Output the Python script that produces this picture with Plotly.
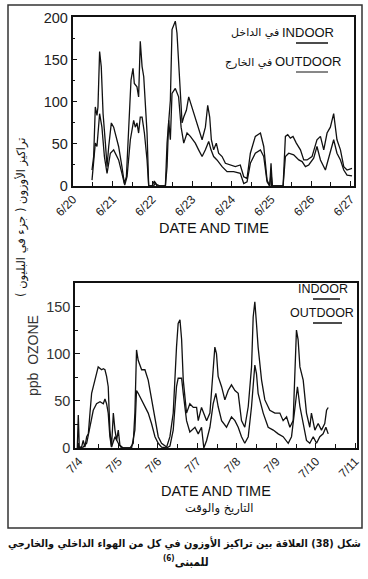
import plotly.graph_objects as go

# ---------------- data ----------------
# Top panel: hours since 6/20 00:00
top_days = ["6/20", "6/21", "6/22", "6/23", "6/24", "6/25", "6/26", "6/27"]
top_out_h = [11.5, 12.5, 13.5, 14.5, 15.1, 16.1, 17.1, 18.2, 19.6, 20.6, 21.6, 23.2, 24.6, 25.6, 27.6,
             29.6, 31.1, 32.3, 33.7, 35.1, 36.3, 37.1, 38.7, 39.7, 40.7, 41.8, 42.8, 43.8, 44.8, 45.8,
             47.8, 49.2, 50.4, 52.8, 55.9, 56.9, 57.9, 58.9, 59.9, 60.9, 61.9, 62.9, 63.9, 64.9, 66.0,
             67.0, 68.6, 70.0, 72.0, 74.0, 76.0, 78.1, 80.1, 81.5, 82.7, 83.7, 85.1, 86.7, 88.1, 90.2,
             92.2, 95.2, 98.2, 101.2, 103.3, 105.3, 107.3, 110.3, 113.4, 115.4, 117.4, 119.0, 119.8,
             120.6, 127.1, 128.5, 129.9, 131.5, 133.1, 135.1, 137.6, 139.6, 141.6, 144.6, 147.6, 149.7,
             151.7, 153.7, 155.7, 157.7, 159.7, 161.8, 163.8, 165.8, 168.8]
top_out_v = [19, 35, 94, 84, 94, 160, 142, 86, 51, 23, 47, 75, 70, 63, 47,
             23, 3, 11, 78, 126, 140, 122, 118, 106, 172, 142, 130, 102, 63, 0,
             0, 6, 2, 0, 0, 51, 78, 102, 186, 190, 196, 182, 142, 102, 75,
             82, 90, 106, 94, 82, 70, 55, 70, 96, 82, 55, 43, 51, 39, 35,
             27, 25, 23, 25, 11, 9, 39, 59, 63, 47, 7, 0, 27,
             0, 0, 59, 61, 57, 59, 51, 43, 31, 31, 35, 55, 59,
             43, 63, 70, 86, 55, 43, 23, 19, 21]
top_in_h = [11.5, 13.5, 14.5, 16.1, 17.5, 19.0, 20.6, 22.6, 24.6, 27.6, 29.6, 31.3, 32.7, 34.7, 36.7,
            37.7, 38.7, 39.7, 40.7, 41.8, 43.2, 44.8, 45.8, 48.8, 49.8, 50.8, 55.9, 56.9, 57.9, 58.9,
            59.9, 61.9, 63.9, 65.4, 67.0, 69.0, 71.0, 74.0, 76.0, 78.1, 80.1, 82.1, 83.5, 85.1, 87.1,
            90.2, 93.2, 97.2, 101.2, 103.3, 105.3, 107.3, 110.3, 113.4, 115.4, 117.4, 119.0, 119.8,
            120.6, 127.1, 128.5, 130.5, 133.5, 136.6, 138.6, 140.6, 142.6, 145.6, 147.6, 149.7, 152.7,
            155.7, 157.7, 159.7, 161.8, 163.8, 165.8, 168.8]
top_in_v = [7, 51, 47, 86, 70, 35, 15, 39, 43, 31, 15, 1, 11, 55, 78,
            70, 75, 63, 82, 82, 63, 31, 0, 0, 4, 0, 0, 23, 78, 55,
            110, 116, 106, 70, 51, 63, 59, 51, 43, 35, 43, 53, 43, 35, 31,
            23, 17, 17, 15, 3, 5, 27, 39, 43, 35, 5, 0, 15,
            0, 0, 35, 39, 37, 31, 29, 23, 25, 33, 47, 31, 19,
            39, 55, 39, 31, 19, 13, 12]

# Bottom panel: hours since 7/4 00:00
bot_days = ["7/4", "7/5", "7/6", "7/7", "7/8", "7/9", "7/10", "7/11"]
bot_out_h = [-1.0, -0.4, 0.2, 1.6, 2.6, 3.6, 4.7, 5.7, 6.7, 7.7, 9.7, 11.7, 13.8, 14.8, 15.8, 16.8,
             17.8, 18.8, 19.8, 20.9, 21.9, 22.9, 23.9, 24.9, 26.9, 31.0, 33.0, 34.0, 35.0, 36.0, 38.1,
             40.1, 42.1, 44.1, 46.2, 48.2, 50.2, 53.3, 55.3, 57.3, 59.3, 60.3, 61.4, 62.4, 63.4, 65.4,
             67.4, 69.5, 71.5, 72.5, 74.5, 77.6, 79.6, 81.6, 82.6, 83.6, 84.6, 86.7, 88.7, 90.7, 92.7,
             94.8, 96.8, 98.8, 100.8, 102.9, 104.9, 105.9, 106.9, 107.9, 108.9, 111.0, 113.0, 116.0,
             119.1, 122.1, 124.1, 126.2, 128.2, 130.2, 131.2, 132.2, 133.2, 134.3, 136.3, 138.3, 140.3,
             141.3, 143.4, 145.4, 147.4, 149.4, 150.5, 151.5]
bot_out_v = [0, 35, 1, 1, 8, 1, 12, 15, 37, 58, 72, 86, 83, 84, 83, 76,
             65, 19, 1, 37, 19, 8, 19, 3, 0, 0, 5, 37, 104, 93, 83,
             83, 72, 51, 33, 12, 5, 1, 12, 37, 107, 132, 136, 115, 72, 37,
             47, 43, 43, 29, 43, 29, 37, 86, 107, 100, 76, 65, 51, 61, 67,
             61, 58, 29, 22, 44, 86, 139, 155, 132, 107, 72, 51, 40,
             37, 37, 29, 33, 22, 29, 72, 125, 115, 86, 72, 37, 22,
             37, 19, 26, 19, 26, 40, 43]
bot_in_h = [-1.0, 2.6, 4.7, 6.7, 8.7, 10.7, 12.8, 14.8, 15.8, 16.8, 17.8, 18.8, 19.8, 21.9, 23.9,
            25.9, 32.0, 34.0, 35.0, 36.0, 38.1, 40.1, 42.1, 44.1, 46.2, 48.2, 50.2, 53.3, 55.3, 57.3,
            59.3, 60.3, 62.4, 63.4, 65.4, 67.4, 70.5, 72.5, 74.5, 75.9, 77.6, 79.6, 81.6, 83.2, 84.6,
            86.7, 89.7, 92.7, 94.8, 96.8, 98.8, 100.8, 102.9, 104.9, 106.9, 107.9, 108.9, 112.0, 115.0,
            118.1, 121.1, 124.1, 127.2, 129.2, 131.2, 132.8, 134.3, 136.3, 138.3, 140.3, 142.4, 144.4,
            146.4, 148.4, 150.1, 151.5]
bot_in_v = [0, 1, 5, 22, 40, 47, 49, 47, 52, 47, 37, 12, 1, 12, 5,
            0, 0, 19, 61, 58, 51, 45, 37, 26, 12, 5, 1, 0, 2, 19,
            65, 74, 74, 58, 29, 17, 22, 15, 22, 0, 8, 22, 47, 58, 44,
            29, 22, 33, 29, 22, 12, 5, 12, 44, 88, 79, 58, 37, 22,
            19, 15, 12, 5, 12, 40, 65, 44, 26, 8, 5, 12, 5,
            12, 15, 22, 15]

# ---------------- layout helpers ----------------
W, H = 368, 579


def fx(x):
    return x / W


def fy(y):
    return 1 - y / H


LINE = dict(color="#111111", width=1.3)
TXT = "Liberation Sans, Arial, sans-serif"
AR = "DejaVu Sans, Noto Sans, sans-serif"
ARC = "DejaVu Sans Condensed, DejaVu Sans, sans-serif"

fig = go.Figure()
fig.add_trace(go.Scatter(x=top_out_h, y=top_out_v, mode="lines", line=LINE, name="OUTDOOR",
                         xaxis="x", yaxis="y"))
fig.add_trace(go.Scatter(x=top_in_h, y=top_in_v, mode="lines", line=LINE, name="INDOOR",
                         xaxis="x", yaxis="y"))
fig.add_trace(go.Scatter(x=bot_out_h, y=bot_out_v, mode="lines", line=LINE, name="OUTDOOR",
                         xaxis="x2", yaxis="y2"))
fig.add_trace(go.Scatter(x=bot_in_h, y=bot_in_v, mode="lines", line=LINE, name="INDOOR",
                         xaxis="x2", yaxis="y2"))

axis_common = dict(showline=True, linecolor="#111111", linewidth=1.5, mirror=True,
                   showgrid=False, zeroline=False, ticks="inside", ticklen=5, automargin=False,
                   tickcolor="#111111", tickfont=dict(family=TXT, size=12, color="#222222"))

fig.update_layout(
    width=W, height=H, margin=dict(l=0, r=0, t=0, b=0, autoexpand=False),
    paper_bgcolor="white", plot_bgcolor="white", showlegend=False,
    xaxis=dict(domain=[fx(72.5), fx(354)], range=[-0.3, 170], anchor="y",
               tickvals=[24 * i for i in range(len(top_days))], ticktext=top_days, tickangle=-45,
               minor=dict(dtick=12, tick0=0, ticks="inside", ticklen=4, tickcolor="#111111"),
               **axis_common),
    yaxis=dict(domain=[fy(186), fy(17)], range=[0, 201], anchor="x",
               tickvals=[0, 50, 100, 150, 200],
               minor=dict(dtick=25, ticks="inside", ticklen=3, tickcolor="#111111"),
               **{**axis_common, "tickfont": dict(family=TXT, size=14.5, color="#222222")}),
    xaxis2=dict(domain=[fx(75), fx(357)], range=[-2.4, 169], anchor="y2",
                tickvals=[24 * i for i in range(len(bot_days))], ticktext=bot_days, tickangle=-45,
                minor=dict(dtick=12, tick0=0, ticks="inside", ticklen=4, tickcolor="#111111"),
                **axis_common),
    yaxis2=dict(domain=[fy(448), fy(283)], range=[0, 175], anchor="x2",
                tickvals=[0, 50, 100, 150],
                minor=dict(dtick=25, ticks="inside", ticklen=3, tickcolor="#111111"),
                **{**axis_common, "tickfont": dict(family=TXT, size=14.5, color="#333333")}),
)

ann = []


def add_text(x, y, text, size, family=TXT, angle=0, color="#111111", bold=False, anchor="center"):
    if bold:
        text = "<b>" + text + "</b>"
    ann.append(dict(x=fx(x), y=fy(y), xref="paper", yref="paper", text=text, showarrow=False,
                    xanchor=anchor, yanchor="middle", textangle=angle,
                    font=dict(family=family, size=size, color=color)))


# axis titles
add_text(213.5, 228, "DATE AND TIME", 14.5)
add_text(216, 491, "DATE AND TIME", 14.5)
add_text(219, 508, "التاريخ والوقت", 11.5, family=AR)
add_text(21, 217, "تراكيز الأوزون ( جزء في البليون )", 11.5, family=AR, angle=-90)
add_text(33, 356, "ppb  OZONE", 14, angle=-90, color="#333333")

# legends
add_text(336, 33, "INDOOR", 13, anchor="right")
add_text(281, 33, "في الداخل", 11, family=AR, anchor="right")
add_text(343, 62, "OUTDOOR", 13, anchor="right")
add_text(274, 63, "في الخارج", 11, family=AR, anchor="right")
add_text(350, 289, "INDOOR", 12.5, anchor="right")
add_text(356, 313, "OUTDOOR", 12.5, anchor="right")

# caption
add_text(184, 543, "شكل (38) العلاقة بين تراكيز الأوزون في كل من الهواء الداخلي والخارجي", 10.8,
         family=ARC, bold=True)
add_text(186, 561, "للمبنى<sup>(6)</sup>", 11.5, family=ARC, bold=True)

fig.update_layout(annotations=ann)

shapes = [
    # outer frame
    dict(type="rect", xref="paper", yref="paper", x0=fx(8), x1=fx(362), y0=fy(528), y1=fy(5),
         line=dict(color="#333333", width=1.5)),
    # legend line samples
    dict(type="line", xref="paper", yref="paper", x0=fx(296), x1=fx(328), y0=fy(43), y1=fy(43),
         line=dict(color="#111111", width=1.5)),
    dict(type="line", xref="paper", yref="paper", x0=fx(296), x1=fx(328), y0=fy(72), y1=fy(72),
         line=dict(color="#111111", width=1.0)),
    dict(type="line", xref="paper", yref="paper", x0=fx(313), x1=fx(340), y0=fy(299), y1=fy(299),
         line=dict(color="#111111", width=1.5)),
    dict(type="line", xref="paper", yref="paper", x0=fx(313), x1=fx(342), y0=fy(323), y1=fy(323),
         line=dict(color="#111111", width=1.5)),
]
fig.update_layout(shapes=shapes)

fig.write_html("out.html", config={"displayModeBar": False},
               post_script="document.body.style.margin='0';document.body.style.overflow='hidden';")
